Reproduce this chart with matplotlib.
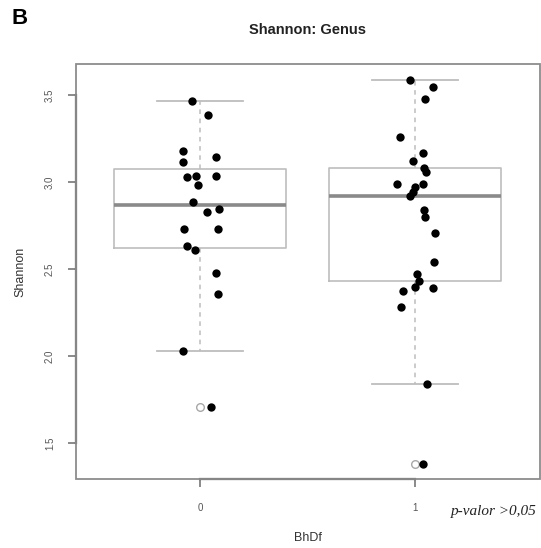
import numpy as np
import matplotlib
matplotlib.use("Agg")
import matplotlib.pyplot as plt
from matplotlib.patches import Rectangle

plt.rcParams['font.family'] = ['Liberation Sans', 'DejaVu Sans']

# Shannon index (genus level) per sample, grouped by BhDf
groups = ['0', '1']
shannon_0 = [3.470, 3.389, 3.180, 3.148, 3.119, 3.029, 3.039, 3.039, 2.987, 2.889,
             2.828, 2.849, 2.730, 2.730, 2.632, 2.609, 2.481, 2.360, 2.030, 1.711]
shannon_1 = [3.590, 3.548, 3.479, 3.259, 3.168, 3.122, 3.082, 3.059, 2.990, 2.971,
             2.990, 2.943, 2.920, 2.841, 2.799, 2.709, 2.540, 2.473, 2.431, 2.401,
             2.391, 2.374, 2.282, 1.841, 1.383]
# horizontal jitter of the stripchart points
jitter_0 = [-0.040, 0.034, -0.083, 0.074, -0.080, -0.063, -0.021, 0.074, -0.011, -0.034,
            0.030, 0.085, -0.074, 0.083, -0.062, -0.023, 0.073, 0.083, -0.081, 0.050]
jitter_1 = [-0.026, 0.081, 0.046, -0.072, 0.036, -0.011, 0.040, 0.050, -0.085, 0.000,
            0.037, -0.009, -0.026, 0.040, 0.044, 0.091, 0.087, 0.006, 0.017, -0.001,
            0.081, -0.057, -0.068, 0.053, 0.037]
p_text = "p-valor >0,05"


def r_boxstats(values, coef=1.5):
    # Tukey hinges like R's boxplot.stats
    x = np.sort(np.asarray(values))
    n = len(x)
    n4 = np.floor((n + 3) / 2) / 2
    d = np.array([1, n4, (n + 1) / 2, n + 1 - n4, n]) - 1
    fn = 0.5 * (x[np.floor(d).astype(int)] + x[np.ceil(d).astype(int)])
    iqr = fn[3] - fn[1]
    lo, hi = fn[1] - coef * iqr, fn[3] + coef * iqr
    inside = x[(x >= lo) & (x <= hi)]
    return dict(med=fn[2], q1=fn[1], q3=fn[3], whislo=inside.min(),
                whishi=inside.max(), fliers=x[(x < lo) | (x > hi)])


data = [shannon_0, shannon_1]
jitters = [jitter_0, jitter_1]
positions = np.arange(1, len(groups) + 1)

fig = plt.figure(figsize=(5.41, 5.48), dpi=100)
ax = fig.add_axes([0.14, 0.126, 0.858, 0.7564])

box_col = '#bdbdbd'
ax.bxp([r_boxstats(d) for d in data], positions=positions, widths=0.8,
       boxprops=dict(color=box_col, linewidth=1.2),
       medianprops=dict(color='#8a8a8a', linewidth=2.6),
       whiskerprops=dict(color=box_col, linewidth=1.1, linestyle=(0, (3, 3))),
       capprops=dict(color=box_col, linewidth=1.3),
       flierprops=dict(marker='o', markerfacecolor='none', markeredgecolor='#a8a8a8',
                       markersize=5.5, markeredgewidth=1.0))

for pos, vals, jit in zip(positions, data, jitters):
    ax.scatter(pos + np.array(jit), vals, s=36, color='black', zorder=5, linewidths=0)

allv = np.concatenate(data)
span = allv.max() - allv.min()
ax.set_xlim(0.42, len(groups) + 0.58)
ax.set_ylim(allv.min() - 0.04 * span, allv.max() + 0.04 * span)

# R-style frame: light box plus darker axis lines spanning the ticks
for s in ax.spines.values():
    s.set_visible(False)
ax.add_patch(Rectangle((0, 0), 1, 1, transform=ax.transAxes, fill=False,
                       edgecolor='#8c8c8c', linewidth=1.3, zorder=6, clip_on=False))
yt = [1.5, 2.0, 2.5, 3.0, 3.5]
ax.spines['left'].set_visible(True)
ax.spines['left'].set_bounds(yt[0], yt[-1])
ax.spines['left'].set_color('#555555')
ax.spines['left'].set_linewidth(1.6)
ax.spines['bottom'].set_visible(True)
ax.spines['bottom'].set_bounds(positions[0], positions[-1])
ax.spines['bottom'].set_color('#555555')
ax.spines['bottom'].set_linewidth(1.6)

ax.set_yticks(yt)
ax.set_yticklabels([f"{v:.1f}" for v in yt], rotation=90, va='center')
ax.set_xticks(positions)
ax.set_xticklabels(groups)
ax.tick_params(axis='both', length=6, width=1.2, color='#777777',
               labelsize=7, labelcolor='#555555')
ax.tick_params(axis='y', pad=9)
ax.tick_params(axis='x', pad=11)

ax.set_ylabel("Shannon", fontsize=9, color='#333333', labelpad=13)
ax.set_xlabel("BhDf", fontsize=9, color='#333333', labelpad=14)
fig.text(0.569, 0.945, "Shannon: Genus", ha='center', va='center',
         fontsize=10.5, fontweight='bold', color='#222222')
fig.text(0.022, 0.966, "B", ha='left', va='center', fontsize=16, fontweight='bold')
fig.text(0.992, 0.066, p_text, ha='right', va='center', fontsize=11,
         family=['Liberation Serif', 'DejaVu Serif'], style='italic', color='#222222')

fig.savefig("out.png", dpi=100)
